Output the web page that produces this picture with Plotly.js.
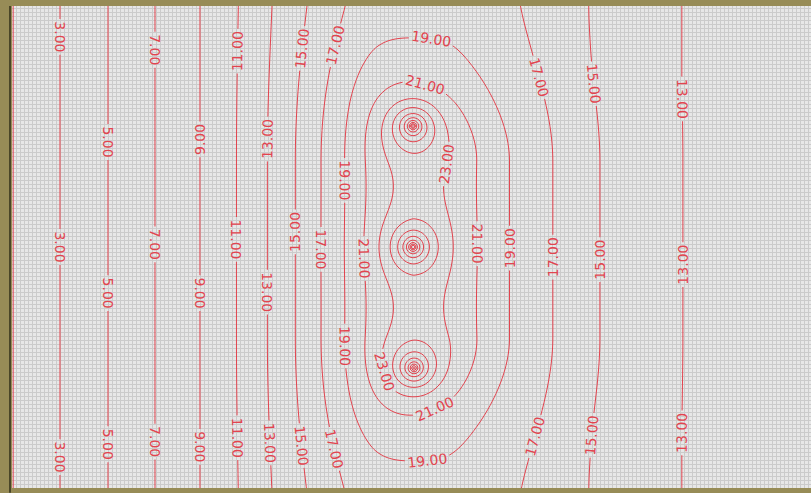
<!DOCTYPE html>
<html>
<head>
<meta charset="utf-8">
<script src="https://cdn.plot.ly/plotly-3.0.1.min.js"></script>
<style>
  html, body { margin: 0; padding: 0; background: #978c57; }
  #chart { width: 811px; height: 493px; }
</style>
</head>
<body>
<div id="chart"></div>
<script>
// Background level across the field, left to right (far from the wells)
const profileX = [12, 60, 108, 155, 200, 237, 265, 292, 320, 345, 362, 377, 413, 453, 478, 508, 552, 600, 640, 683, 740, 811];
const profileZ = [0.95, 3.0, 5.0, 7.0, 9.0, 10.9, 12.45, 13.85, 15.05, 15.95, 16.55, 17.0, 17.55, 17.76, 17.58, 17.1, 16.14, 14.66, 13.75, 12.98, 12.1, 11.3];

// Mound along the line of wells: rise versus distance from that line,
// on the west side and on the east side
const ridgeDist      = [0, 15, 25, 36, 45, 55, 68, 80, 95, 110, 125, 140, 160, 185, 215, 260, 300];
const ridgeRiseWest  = [5.8, 5.55, 5.25, 4.8, 4.3, 3.7, 3.0, 2.4, 1.75, 1.2, 0.8, 0.5, 0.25, 0.08, 0, 0, 0];
const ridgeRiseEast  = [5.8, 5.55, 5.25, 4.8, 4.3, 3.75, 3.1, 2.55, 1.95, 1.5, 1.15, 0.87, 0.6, 0.35, 0.15, 0.03, 0];
const ridgeX = 413, ridgeTop = 162, ridgeBottom = 337;
// past the ends of the line the mound falls off at a rate that grows from west to east
const capRate = 0.87, capSlopeWest = 0.0043, capSlopeEast = 0.0032, capRateMin = 0.6, capRateMax = 1.6;

// Wells
const wellX = [413, 413, 414];
const wellY = [126, 247, 368];
const wellRise = 4.44;     // rise per unit of ln(r) near a well
const wellRadius = 38;

// Contour levels: labelled lines up to 23, unlabelled rings above
const levelStep = 2;
const labelledTop = 23, ringTop = 41;
const labelSpacingLevels = 180;   // pads the labelled set so labels repeat along long lines

// Field extent and sampling step
const xMin = 12, xMax = 811, yMin = 6, yMax = 488, step = 2;

function monotone(xs, ys) {
  const n = xs.length, d = [], m = new Array(n);
  for (let i = 0; i < n - 1; i++) d.push((ys[i + 1] - ys[i]) / (xs[i + 1] - xs[i]));
  m[0] = d[0]; m[n - 1] = d[n - 2];
  for (let i = 1; i < n - 1; i++) m[i] = d[i - 1] * d[i] <= 0 ? 0 : (d[i - 1] + d[i]) / 2;
  for (let i = 0; i < n - 1; i++) {
    if (d[i] === 0) { m[i] = 0; m[i + 1] = 0; continue; }
    const a = m[i] / d[i], b = m[i + 1] / d[i], s = a * a + b * b;
    if (s > 9) { const t = 3 / Math.sqrt(s); m[i] = t * a * d[i]; m[i + 1] = t * b * d[i]; }
  }
  return function (x) {
    if (x <= xs[0]) return ys[0];
    if (x >= xs[n - 1]) return ys[n - 1];
    let i = 0; while (x > xs[i + 1]) i++;
    const h = xs[i + 1] - xs[i], t = (x - xs[i]) / h, t2 = t * t, t3 = t2 * t;
    return (2 * t3 - 3 * t2 + 1) * ys[i] + (t3 - 2 * t2 + t) * h * m[i] +
           (-2 * t3 + 3 * t2) * ys[i + 1] + (t3 - t2) * h * m[i + 1];
  };
}

function smoothstep(t) { t = Math.min(1, Math.max(0, t)); return t * t * (3 - 2 * t); }

const base = monotone(profileX, profileZ);
const ridgeWest = monotone(ridgeDist, ridgeRiseWest);
const ridgeEast = monotone(ridgeDist, ridgeRiseEast);

const xs = [], ys = [], zs = [];
for (let x = xMin; x <= xMax + 1; x += step) xs.push(x);
for (let y = yMin; y <= yMax; y += step) ys.push(y);
for (const y of ys) {
  const row = [];
  const dyOut = y < ridgeTop ? ridgeTop - y : (y > ridgeBottom ? y - ridgeBottom : 0);
  for (const x of xs) {
    const dx = x - ridgeX;
    const rate = Math.min(capRateMax, Math.max(capRateMin,
      capRate + (dx < 0 ? capSlopeWest : capSlopeEast) * dx));
    const dist = Math.hypot(dx, dyOut * rate);
    const w = smoothstep((dx + 40) / 80);
    let v = base(x) + (1 - w) * ridgeWest(dist) + w * ridgeEast(dist);
    for (let k = 0; k < wellX.length; k++) {
      const r = Math.max(Math.hypot(x - wellX[k], y - wellY[k]), 1);
      v += wellRise / 4 * Math.log(1 + Math.pow(wellRadius / r, 4));
    }
    row.push(v);
  }
  zs.push(row);
}

const lineRed = '#e2444f';
const labelFont = { family: 'DejaVu Sans', size: 14, color: lineRed };

const labelled = {
  type: 'contour', x: xs, y: ys, z: zs,
  showscale: false, hoverinfo: 'skip',
  contours: {
    start: labelledTop - levelStep * (labelSpacingLevels - 1), end: labelledTop, size: levelStep,
    coloring: 'none', showlabels: true, labelformat: '.2f', labelfont: labelFont
  },
  line: { color: lineRed, width: 1, smoothing: 1 }
};

const rings = {
  type: 'contour', x: xs, y: ys, z: zs,
  showscale: false, hoverinfo: 'skip',
  contours: { start: labelledTop + levelStep, end: ringTop, size: levelStep, coloring: 'none', showlabels: false },
  line: { color: lineRed, width: 1, smoothing: 1 }
};

const axisStyle = {
  showgrid: true, gridcolor: '#cbcbcb', gridwidth: 1, dtick: 4, tick0: 0,
  showticklabels: false, ticks: '', zeroline: false, showline: false, fixedrange: true
};

const layout = {
  width: 811, height: 493,
  margin: { l: 12, r: 0, t: 6, b: 5, pad: 0 },
  paper_bgcolor: '#978c57',
  plot_bgcolor: '#e7e7e7',
  showlegend: false,
  xaxis: Object.assign({ range: [xMin, xMax] }, axisStyle),
  yaxis: Object.assign({ range: [yMax, yMin] }, axisStyle),
  shapes: [
    { type: 'line', xref: 'paper', yref: 'paper', x0: -0.0025, x1: -0.0025, y0: -0.01, y1: 1.0,
      line: { color: '#4a4628', width: 2 } }
  ]
};

Plotly.newPlot('chart', [labelled, rings], layout, { displayModeBar: false, staticPlot: true });
</script>
</body>
</html>
